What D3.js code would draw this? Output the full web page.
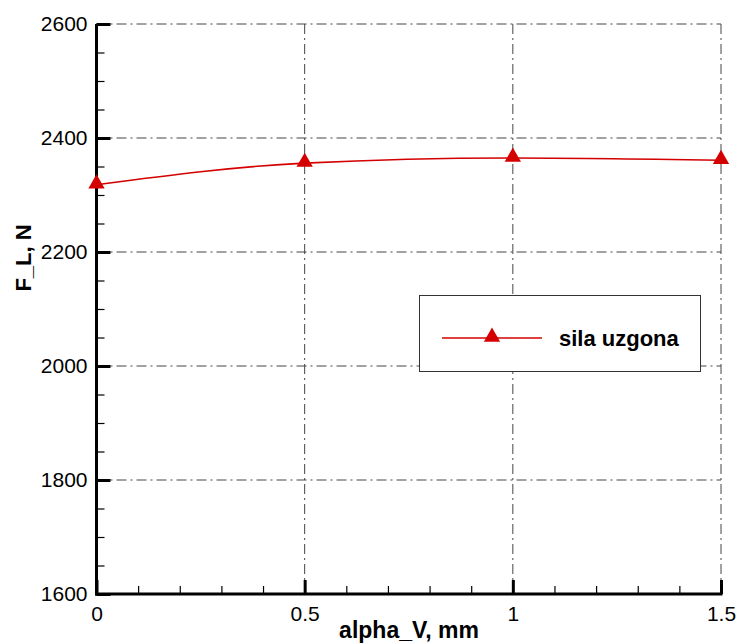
<!DOCTYPE html>
<html><head><meta charset="utf-8">
<script src="https://cdn.jsdelivr.net/npm/d3@7"></script>
<style>body{margin:0;background:#fff}svg{display:block}text{font-family:"Liberation Sans",Arial,sans-serif}</style>
</head><body>
<svg id="c" width="737" height="643"></svg>
<script>
const xValues=[0,0.5,1,1.5];
const lift=[2318,2356,2365,2361];
const xTicks=[0,0.5,1,1.5];
const yTicks=[1600,1800,2000,2200,2400,2600];
const seriesName="sila uzgona";
const xLabel="alpha_V, mm", yLabel="F_L, N";

const svg=d3.select("#c");
const L=96.5,R=721,T=24,B=594;
const x=d3.scaleLinear().domain([0,1.5]).range([L,R]);
const y=d3.scaleLinear().domain([1600,2600]).range([B,T]);
const red="#d40000";
const dash="10,4,2,4";
// grid
svg.append("g").selectAll("line").data(yTicks.filter(d=>d>1600)).join("line")
 .attr("x1",L).attr("x2",R).attr("y1",d=>y(d)).attr("y2",d=>y(d))
 .attr("stroke","#444").attr("stroke-width",1).attr("stroke-dasharray",dash);
svg.append("g").selectAll("line").data(xTicks.filter(d=>d>0)).join("line")
 .attr("x1",d=>x(d)).attr("x2",d=>x(d)).attr("y1",T).attr("y2",B)
 .attr("stroke","#444").attr("stroke-width",1).attr("stroke-dasharray",dash);
// axes
const xa=svg.append("g").attr("transform",`translate(0,${B})`);
xa.call(d3.axisBottom(x).tickValues(d3.range(0,1.5001,0.1)).tickSize(-8).tickFormat(""));
xa.call(g=>g.selectAll(".tick line").attr("stroke-width",1.2));
const xa2=svg.append("g").attr("transform",`translate(0,${B})`);
xa2.call(d3.axisBottom(x).tickValues(xTicks).tickSize(-14).tickPadding(12).tickFormat(d3.format("")));
const ya=svg.append("g").attr("transform",`translate(${L},0)`);
ya.call(d3.axisLeft(y).tickValues(d3.range(1600,2601,50)).tickSize(-8).tickFormat(""));
ya.call(g=>g.selectAll(".tick line").attr("stroke-width",1.2));
const ya2=svg.append("g").attr("transform",`translate(${L},0)`);
ya2.call(d3.axisLeft(y).tickValues(yTicks).tickSize(-14).tickPadding(9).tickFormat(d3.format("")));
[xa,ya].forEach(g=>g.select(".domain").remove());
[xa2,ya2].forEach(g=>{g.select(".domain").remove();g.selectAll(".tick line").attr("stroke-width",3);
 g.selectAll("text").attr("font-size",21).attr("fill","#000");});
xa2.selectAll("text").attr("dy","0.71em");
svg.append("line").attr("x1",L).attr("x2",L).attr("y1",T).attr("y2",B+1.5).attr("stroke","#000").attr("stroke-width",3);
svg.append("line").attr("x1",L-1.5).attr("x2",R+1.5).attr("y1",B).attr("y2",B).attr("stroke","#000").attr("stroke-width",3);
// series
const data=xValues.map((v,i)=>[v,lift[i]]);
svg.append("path").datum(data).attr("fill","none").attr("stroke",red).attr("stroke-width",1.6)
 .attr("d",d3.line().x(d=>x(d[0])).y(d=>y(d[1])).curve(d3.curveMonotoneX));
const tri=d3.symbol().type(d3.symbolTriangle).size(115);
svg.append("g").selectAll("path").data(data).join("path")
 .attr("transform",d=>`translate(${x(d[0])},${y(d[1])-1})`).attr("d",tri).attr("fill",red);
// legend
const lg=svg.append("g");
lg.append("rect").attr("x",419.5).attr("y",295.5).attr("width",281).attr("height",76).attr("fill","#fff").attr("stroke","#333").attr("stroke-width",1);
lg.append("line").attr("x1",442).attr("x2",542).attr("y1",338).attr("y2",338).attr("stroke",red).attr("stroke-width",1.6);
lg.append("path").attr("transform","translate(492,337)").attr("d",tri).attr("fill",red);
lg.append("text").attr("x",559).attr("y",346).attr("font-size",22).attr("font-weight","bold").text(seriesName);
// labels
svg.append("text").attr("x",409).attr("y",638).attr("text-anchor","middle").attr("font-size",23).attr("font-weight","bold").text(xLabel);
svg.append("text").attr("transform","translate(31,258) rotate(-90)").attr("text-anchor","middle").attr("font-size",22).attr("font-weight","bold").text(yLabel);
</script>
</body></html>
